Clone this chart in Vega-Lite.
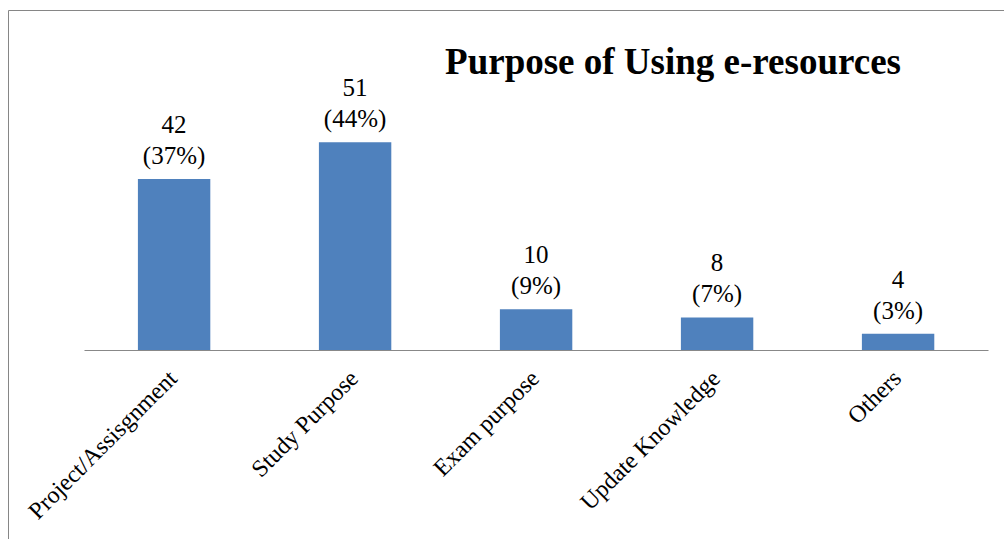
{
  "$schema": "https://vega.github.io/schema/vega-lite/v6.json",
  "autosize": {"type": "none"},
  "padding": {"left": 8, "top": 10, "right": 0, "bottom": 0},
  "width": 1000,
  "height": 535,
  "background": "white",
  "title": {
    "text": "Purpose of Using e-resources",
    "font": "Liberation Serif",
    "fontSize": 37,
    "fontWeight": "bold",
    "color": "black",
    "anchor": "middle",
    "frame": "group",
    "baseline": "alphabetic",
    "offset": 0,
    "dx": 165,
    "dy": 101
  },
  "data": {
    "values": [
      {"category": "Project/Assisgnment", "count": 42, "label": "42\n(37%)"},
      {"category": "Study Purpose", "count": 51, "label": "51\n(44%)"},
      {"category": "Exam purpose", "count": 10, "label": "10\n(9%)"},
      {"category": "Update Knowledge", "count": 8, "label": "8\n(7%)"},
      {"category": "Others", "count": 4, "label": "4\n(3%)"}
    ]
  },
  "encoding": {
    "x": {
      "field": "category",
      "type": "nominal",
      "sort": null,
      "scale": {"paddingInner": 0.6, "paddingOuter": 0.5625, "align": 0.638},
      "axis": {
        "title": null,
        "orient": "bottom",
        "offset": -195,
        "domainColor": "#888888",
        "domainWidth": 1.2,
        "domainDash": [0, 76, 904, 300],
        "ticks": false,
        "labelAngle": -45,
        "labelAlign": "right",
        "labelBaseline": "top",
        "labelPadding": 16,
        "labelOffset": -9,
        "labelFont": "Liberation Serif",
        "labelFontSize": 24,
        "labelColor": "black",
        "labelLimit": 0,
        "labelOverlap": false
      }
    },
    "y": {
      "field": "count",
      "type": "quantitative",
      "scale": {"domain": [-47.9, 83.5], "nice": false, "zero": false},
      "axis": null
    }
  },
  "layer": [
    {"mark": {"type": "bar", "color": "#4F81BD"}},
    {
      "mark": {
        "type": "text",
        "font": "Liberation Serif",
        "fontSize": 25,
        "color": "black",
        "baseline": "bottom",
        "lineBreak": "\n",
        "lineHeight": 31,
        "dy": -41
      },
      "encoding": {"text": {"field": "label"}}
    }
  ],
  "config": {
    "view": {"stroke": "#868686", "strokeWidth": 1}
  }
}
